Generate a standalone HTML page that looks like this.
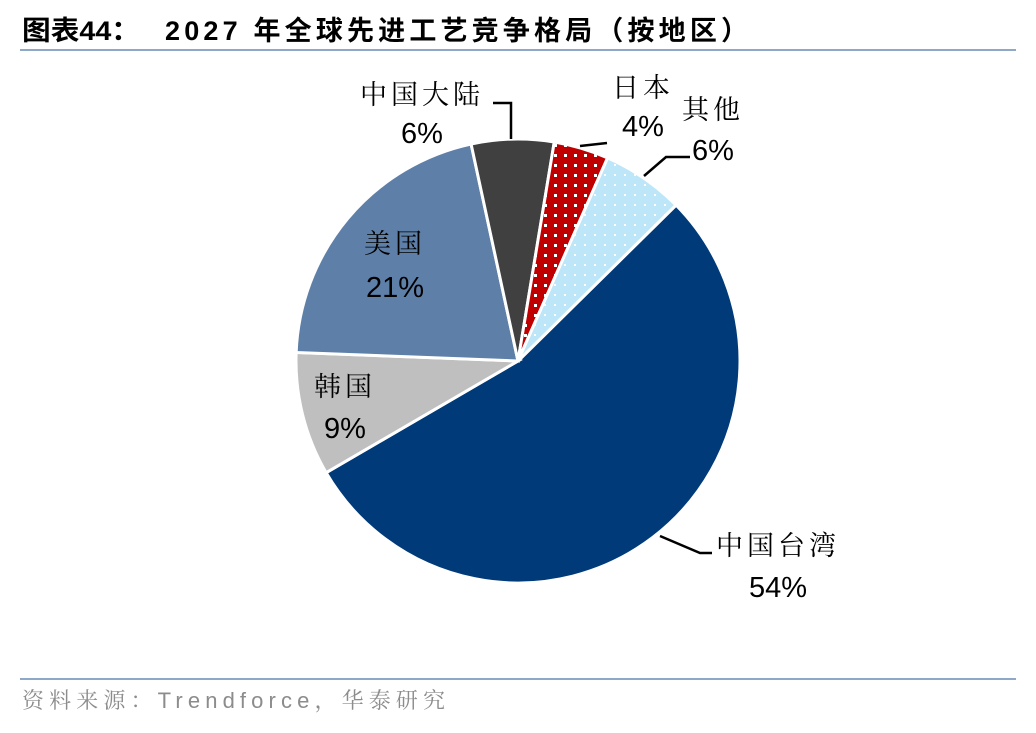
<!DOCTYPE html>
<html><head><meta charset="utf-8"><style>
body{margin:0;background:#fff;}
svg text{font-family:"Liberation Sans","Noto Sans CJK SC",sans-serif;}
svg text.cjk{font-family:"Liberation Sans","Noto Serif CJK SC",serif;}
</style></head><body>
<svg width="1036" height="728" viewBox="0 0 1036 728">
<defs>
<pattern id="dotRed" width="10" height="10" patternUnits="userSpaceOnUse"><rect width="10" height="10" fill="#C00000"/><rect x="4" y="4" width="3" height="3" fill="#fff"/></pattern>
<pattern id="dotBlue" width="10" height="10" patternUnits="userSpaceOnUse"><rect width="10" height="10" fill="#BDE7F8"/><rect x="4" y="4" width="2" height="2" fill="#fff"/></pattern>
</defs>
<text x="22" y="40" font-size="27" font-weight="bold" fill="#000" textLength="118" lengthAdjust="spacingAndGlyphs">图表44：</text>
<text x="165" y="40" font-size="27" font-weight="bold" fill="#000" textLength="583" lengthAdjust="spacing">2027 年全球先进工艺竞争格局（按地区）</text>
<rect x="20" y="49" width="996" height="2" fill="#8EA9C8"/>
<g id="pie"></g>
<g id="labels">
<polyline points="493,103 511,103 511,139" fill="none" stroke="#000" stroke-width="2.5"/>
<polyline points="580,146 607,143" fill="none" stroke="#000" stroke-width="2.5"/>
<polyline points="644,176 666,157 690,157" fill="none" stroke="#000" stroke-width="2.5"/>
<polyline points="660,536 700,553 712,553" fill="none" stroke="#000" stroke-width="2.5"/>
</g>
<rect x="20" y="678" width="996" height="2" fill="#8EA9C8"/>
<text class="cjk" x="22" y="708" font-size="22" fill="#8c8c8c" textLength="423" lengthAdjust="spacing">资料来源：Trendforce，华泰研究</text>
</svg>
<script>
const categories=["中国台湾","韩国","美国","中国大陆","日本","其他"];
const values=[54,9,21,6,4,6];
const pctLabels=["54%","9%","21%","6%","4%","6%"];
const fills=["#003A78","#BFBFBF","#5E7FA8","#404040","url(#dotRed)","url(#dotBlue)"];
const labelPos=[[778,555,778,597],[345,396,345,438],[395,253,395,297],[422,104,422,143],[643,97,643,136],[713,119,713,160]];
const cx=518,cy=361,r=222,start=45.4;
const ns="http://www.w3.org/2000/svg";
const pie=document.getElementById('pie'),lab=document.getElementById('labels');
const total=values.reduce((a,b)=>a+b,0);
function pt(a){const t=(a-90)*Math.PI/180;return [cx+r*Math.cos(t),cy+r*Math.sin(t)];}
let a=start;
values.forEach((v,i)=>{
  const sweep=v/total*360,a2=a+sweep;
  const p1=pt(a),p2=pt(a2);
  const path=document.createElementNS(ns,'path');
  path.setAttribute('d',`M${cx},${cy} L${p1[0]},${p1[1]} A${r},${r} 0 ${sweep>180?1:0} 1 ${p2[0]},${p2[1]} Z`);
  path.setAttribute('fill',fills[i]);path.setAttribute('stroke','#fff');path.setAttribute('stroke-width','3');
  
  
  pie.appendChild(path);
  a=a2;
  const lp=labelPos[i];
  const t1=document.createElementNS(ns,'text');
  t1.setAttribute('class','cjk');
  t1.setAttribute('x',lp[0]);t1.setAttribute('y',lp[1]);t1.setAttribute('text-anchor','middle');t1.setAttribute('font-size','27');t1.setAttribute('letter-spacing','4');
  t1.textContent=categories[i];
  
  
  lab.appendChild(t1);
  const t2=document.createElementNS(ns,'text');
  t2.setAttribute('x',lp[2]);t2.setAttribute('y',lp[3]);t2.setAttribute('text-anchor','middle');t2.setAttribute('font-size','29');
  t2.textContent=pctLabels[i];
  
  
  lab.appendChild(t2);
});
</script>
</body></html>
